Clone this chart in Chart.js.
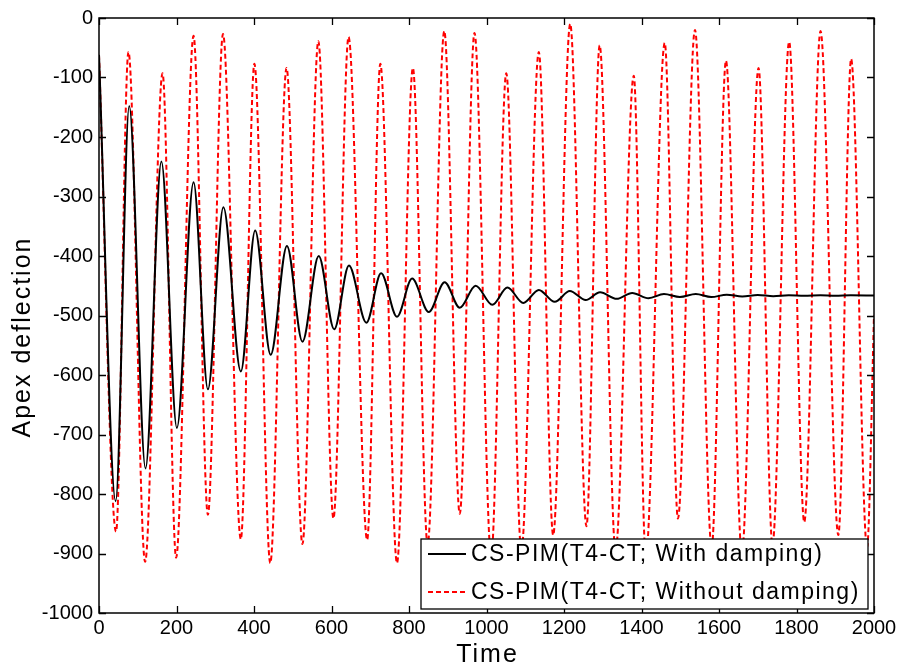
<!DOCTYPE html>
<html>
<head>
<meta charset="utf-8">
<script src="https://cdn.jsdelivr.net/npm/chart.js@4.4.1/dist/chart.umd.min.js"></script>
<style>
  html, body { margin: 0; padding: 0; background: #ffffff; }
  #wrap { width: 903px; height: 669px; }
</style>
</head>
<body>
<div id="wrap"><canvas id="c" width="903" height="669"></canvas></div>
<script>
// ---- data (turning points of each curve) ----
const seriesLabels = ['CS-PIM(T4-CT; With damping)', 'CS-PIM(T4-CT; Without damping)'];

const dampedTime = [0, 43, 78, 120, 161, 201, 244, 281, 321, 366, 403, 443, 485, 525, 567, 607, 645, 690, 728, 769,
  808, 851, 892, 931, 972, 1015, 1054, 1095, 1135, 1176, 1215, 1256, 1293, 1336, 1376, 1418, 1458, 1499, 1540, 1580,
  1620, 1660, 1700, 1740, 1780, 1820, 1862, 1900, 1940, 2000];
const dampedValue = [-62, -812, -148, -757, -241, -689, -276, -624, -318, -594, -357, -566, -383, -544, -400, -523, -416, -512, -429, -502,
  -438, -494, -444, -487, -450, -482, -453, -479, -457, -477, -459, -474, -461, -472, -462, -471, -464, -469, -464, -469,
  -465, -468, -465.5, -467.5, -466, -467, -466, -467, -466, -466.5];

const undampedTime = [0, 44, 76, 119, 164, 199, 244, 281, 320, 366, 401, 442, 484, 525, 566, 605, 644, 692, 726, 769,
  810, 848, 891, 931, 969, 1012, 1051, 1090, 1135, 1172, 1216, 1258, 1292, 1333, 1380, 1411, 1460, 1494, 1538, 1581,
  1618, 1659, 1702, 1738, 1781, 1820, 1862, 1908, 1941, 1982, 2000];
const undampedValue = [-62, -863, -57, -914, -93, -907, -30, -835, -27, -876, -77, -916, -84, -884, -39, -841, -32, -877, -77, -916,
  -84, -885, -22, -833, -25, -905, -93, -895, -57, -869, -10, -854, -46, -895, -97, -905, -42, -841, -20, -890,
  -72, -900, -84, -885, -40, -847, -22, -869, -69, -890, -500];

const xTicks = [0, 200, 400, 600, 800, 1000, 1200, 1400, 1600, 1800, 2000];
const yTicks = [0, -100, -200, -300, -400, -500, -600, -700, -800, -900, -1000];
const xTitle = 'Time';
const yTitle = 'Apex deflection';

const toPoints = (xs, ys) => xs.map((x, i) => ({ x: x, y: ys[i] }));

const FONT = "'Liberation Sans', Arial, Helvetica, sans-serif";

// MATLAB-like box with inward ticks on all four sides
const boxPlugin = {
  id: 'boxTicks',
  afterDraw(chart) {
    const { ctx, chartArea: a, scales } = chart;
    ctx.save();
    ctx.strokeStyle = '#000';
    ctx.lineWidth = 1.3;
    const len = 7;
    ctx.beginPath();
    xTicks.forEach(v => {
      const p = Math.round(scales.x.getPixelForValue(v)) + 0.5;
      ctx.moveTo(p, a.bottom); ctx.lineTo(p, a.bottom - len);
      ctx.moveTo(p, a.top); ctx.lineTo(p, a.top + len);
    });
    yTicks.forEach(v => {
      const p = Math.round(scales.y.getPixelForValue(v)) + 0.5;
      ctx.moveTo(a.left, p); ctx.lineTo(a.left + len, p);
      ctx.moveTo(a.right, p); ctx.lineTo(a.right - len, p);
    });
    ctx.stroke();
    ctx.lineWidth = 1.5;
    ctx.strokeRect(a.left, a.top, a.right - a.left, a.bottom - a.top);
    ctx.restore();
  }
};

// axis titles (MATLAB-like wide spacing)
const titlePlugin = {
  id: 'axisTitles',
  afterDraw(chart) {
    const { ctx, chartArea: a } = chart;
    ctx.save();
    ctx.fillStyle = '#000';
    ctx.font = '25px ' + FONT;
    ctx.letterSpacing = '2px';
    ctx.textAlign = 'center';
    ctx.textBaseline = 'middle';
    ctx.fillText(xTitle, (a.left + a.right) / 2 + 1, 655);
    ctx.translate(23, 337);
    ctx.rotate(-Math.PI / 2);
    ctx.fillText(yTitle, 0, 0);
    ctx.restore();
  }
};

// legend box inside the plot, lower right
const legendPlugin = {
  id: 'insideLegend',
  afterDraw(chart) {
    const { ctx, chartArea: a } = chart;
    const bx = a.left + 322, by = a.top + 521, bw = 447, bh = 70;
    ctx.save();
    ctx.fillStyle = '#fff';
    ctx.fillRect(bx, by, bw, bh);
    ctx.strokeStyle = '#000';
    ctx.lineWidth = 1.3;
    ctx.strokeRect(bx, by, bw, bh);
    ctx.font = '23px ' + FONT;
    ctx.letterSpacing = '1.5px';
    ctx.textBaseline = 'middle';
    ctx.fillStyle = '#000';
    chart.data.datasets.forEach((ds, i) => {
      const y = by + 15 + i * 38;
      ctx.save();
      ctx.strokeStyle = ds.borderColor;
      ctx.lineWidth = ds.borderWidth;
      ctx.setLineDash(ds.borderDash || []);
      ctx.beginPath();
      ctx.moveTo(bx + 7, y); ctx.lineTo(bx + 45, y);
      ctx.stroke();
      ctx.restore();
      ctx.fillText(ds.label, bx + 50, y + 1);
    });
    ctx.restore();
  }
};

new Chart(document.getElementById('c'), {
  type: 'line',
  data: {
    datasets: [
      {
        label: seriesLabels[0],
        data: toPoints(dampedTime, dampedValue),
        borderColor: '#000000',
        borderWidth: 2,
        pointRadius: 0,
        cubicInterpolationMode: 'monotone',
        fill: false,
        order: 0
      },
      {
        label: seriesLabels[1],
        data: toPoints(undampedTime, undampedValue),
        borderColor: '#ff0000',
        borderWidth: 2,
        borderDash: [5, 3],
        pointRadius: 0,
        cubicInterpolationMode: 'monotone',
        fill: false,
        order: 1
      }
    ]
  },
  options: {
    responsive: false,
    animation: false,
    devicePixelRatio: 1,
    layout: { padding: { top: 16, right: 29, left: 0, bottom: 0 } },
    plugins: { legend: { display: false }, tooltip: { enabled: false } },
    scales: {
      x: {
        type: 'linear',
        min: 0, max: 2000,
        afterBuildTicks: s => { s.ticks = xTicks.map(v => ({ value: v })); },
        afterFit: s => { s.height = 56; },
        grid: { display: false, drawTicks: false },
        border: { display: false },
        ticks: { color: '#000', font: { family: FONT, size: 20 }, padding: 3, maxRotation: 0, autoSkip: false,
                 callback: v => String(v) },
        title: { display: false, text: xTitle }
      },
      y: {
        type: 'linear',
        min: -1000, max: 0,
        afterBuildTicks: s => { s.ticks = yTicks.map(v => ({ value: v })); },
        afterFit: s => { s.width = 99; },
        grid: { display: false, drawTicks: false },
        border: { display: false },
        ticks: { color: '#000', font: { family: FONT, size: 20 }, padding: 6, autoSkip: false,
                 callback: v => String(v) },
        title: { display: false, text: yTitle }
      }
    }
  },
  plugins: [boxPlugin, titlePlugin, legendPlugin]
});
</script>
</body>
</html>
